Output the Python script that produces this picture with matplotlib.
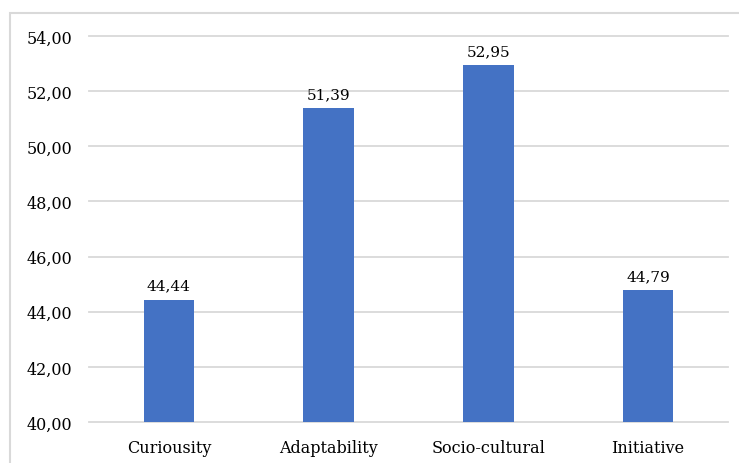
import matplotlib.pyplot as plt
from matplotlib.patches import Rectangle

categories = ["Curiousity", "Adaptability", "Socio-cultural", "Initiative"]
values = [44.44, 51.39, 52.95, 44.79]
y_ticks = [40, 42, 44, 46, 48, 50, 52, 54]

plt.rcParams['font.family'] = ['DejaVu Serif']

fig = plt.figure(figsize=(7.39, 4.64), dpi=100)
# outer chart frame (Excel style), open on the right/bottom
fig.patches.append(Rectangle((10 / 739, -0.1), 1.0, 1 - 14 / 464 + 0.1,
                             transform=fig.transFigure, fill=False,
                             edgecolor='#d9d9d9', linewidth=1.5))

ax = fig.add_axes([89 / 739, 1 - 423 / 464, (728 - 89) / 739, (423 - 37) / 464])
x = range(len(categories))
bars = ax.bar(x, values, width=0.315, color='#4472c4', zorder=3)

ax.set_ylim(40, 54)
ax.set_xlim(-0.5, len(categories) - 0.5)
ax.set_yticks(y_ticks)
ax.set_yticklabels([f"{t:.2f}".replace('.', ',') for t in y_ticks], fontsize=11.5)
ax.set_xticks(list(x))
ax.set_xticklabels(categories, fontsize=11.5)
ax.tick_params(axis='both', length=0, colors='#000000')
ax.tick_params(axis='y', pad=12)
ax.tick_params(axis='x', pad=12)
ax.grid(axis='y', color='#d9d9d9', linewidth=1.3, zorder=0)
for gl in ax.get_ygridlines():
    gl.set_clip_on(False)
for s in ax.spines.values():
    s.set_visible(False)

for b, v in zip(bars, values):
    ax.annotate(f"{v:.2f}".replace('.', ','), (b.get_x() + b.get_width() / 2, v),
                xytext=(0, 5), textcoords='offset points', ha='center', va='bottom',
                fontsize=11)

fig.savefig('out.png', dpi=100)
